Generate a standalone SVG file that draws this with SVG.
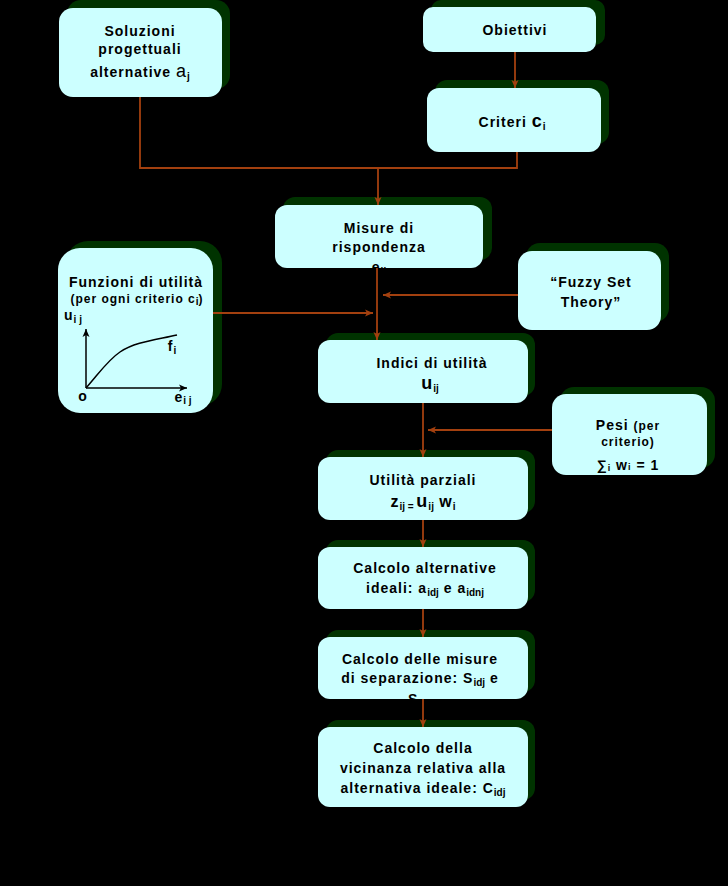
<svg xmlns="http://www.w3.org/2000/svg" width="728" height="886" viewBox="0 0 728 886">
<defs>
<style>
.sh{fill:#003300}
.bx{fill:#ccffff}
text{font-family:"Liberation Sans",Arial,sans-serif;font-weight:bold;font-size:14px;fill:#000;letter-spacing:1px;text-anchor:middle}
.sm{font-size:12px}
.big{font-size:18px}
.sub{font-size:10px;letter-spacing:0}
.con{fill:none;stroke:#a3400f;stroke-width:1.8}
.ax{fill:none;stroke:#000;stroke-width:1.5}
</style>
<marker id="ar" markerUnits="userSpaceOnUse" markerWidth="9" markerHeight="8" refX="8" refY="4" orient="auto">
<path d="M0,0.5 L8,4 L0,7.5 L2,4 z" fill="#a3400f"/>
</marker>
<marker id="ak" markerUnits="userSpaceOnUse" markerWidth="9" markerHeight="8" refX="8" refY="4" orient="auto">
<path d="M0,0.5 L8,4 L0,7.5 L2,4 z" fill="#000"/>
</marker>
</defs>
<rect width="728" height="886" fill="#000"/>

<g id="soluzioni">
<rect class="sh" x="67" y="0" width="163" height="89" rx="14"/>
<rect class="bx" x="59" y="8" width="163" height="89" rx="14"/>
<text x="140" y="36">Soluzioni</text>
<text x="140" y="54">progettuali</text>
<text x="140" y="77">alternative <tspan class="big" font-weight="normal">a</tspan><tspan class="sub" dy="3">j</tspan></text>
</g>

<g id="obiettivi">
<rect class="sh" x="431" y="0" width="174" height="45" rx="10"/>
<rect class="bx" x="423" y="7" width="173" height="45" rx="10"/>
<text x="515" y="35">Obiettivi</text>
</g>

<g id="criteri">
<rect class="sh" x="435" y="80" width="174" height="64" rx="12"/>
<rect class="bx" x="427" y="88" width="174" height="64" rx="12"/>
<text x="512" y="127">Criteri  <tspan class="big">c</tspan><tspan class="sub" dy="3">i</tspan></text>
</g>

<g id="misure">
<rect class="sh" x="283" y="197" width="209" height="63" rx="12"/>
<rect class="bx" x="275" y="205" width="208" height="63" rx="12"/>
<text x="379" y="233">Misure di</text>
<text x="379" y="252">rispondenza</text>
<text x="379" y="272">e<tspan class="sub" dy="3">ij</tspan></text>
</g>

<g id="fuzzy">
<rect class="sh" x="526" y="243" width="143" height="79" rx="14"/>
<rect class="bx" x="518" y="251" width="143" height="79" rx="14"/>
<text x="591" y="287">“Fuzzy Set</text>
<text x="591" y="307">Theory”</text>
</g>

<g id="funzioni">
<rect class="sh" x="66" y="241" width="156" height="165" rx="22"/>
<rect class="bx" x="58" y="248" width="155" height="165" rx="22"/>
<text x="136" y="287">Funzioni di utilità</text>
<text class="sm" x="137" y="303" letter-spacing="0.3">(per ogni criterio c<tspan class="sub" dy="2" font-size="8">i</tspan><tspan dy="-2">)</tspan></text>
<text x="73" y="320" text-anchor="start" letter-spacing="0">u<tspan class="sub" dy="3" font-size="8">i j</tspan></text>
<path class="ax" d="M86,388 V329" marker-end="url(#ak)"/>
<path class="ax" d="M86,388 H187" marker-end="url(#ak)"/>
<path d="M86,388 C100,372 108,360 120,352 C135,342 155,340 177,335" fill="none" stroke="#000" stroke-width="1.5"/>
<text x="172" y="351" text-anchor="start" letter-spacing="0">f<tspan class="sub" dy="3" font-size="8">i</tspan></text>
<text x="83" y="401" text-anchor="middle" letter-spacing="0" font-size="11">o</text>
<text x="183" y="402" text-anchor="start" letter-spacing="0">e<tspan class="sub" dy="2" font-size="8">i j</tspan></text>
</g>

<g id="indici">
<rect class="sh" x="326" y="333" width="209" height="63" rx="12"/>
<rect class="bx" x="318" y="340" width="210" height="63" rx="12"/>
<text x="432" y="368">Indici di utilità</text>
<text x="430" y="389"><tspan class="big">u</tspan><tspan class="sub" dy="3">ij</tspan></text>
</g>

<g id="pesi">
<rect class="sh" x="560" y="387" width="155" height="81" rx="14"/>
<rect class="bx" x="552" y="394" width="155" height="81" rx="14"/>
<text x="628" y="430">Pesi <tspan class="sm">(per</tspan></text>
<text class="sm" x="628" y="446">criterio)</text>
<text x="628" y="470" letter-spacing="0">∑<tspan font-size="9" dy="1">i</tspan><tspan dy="-1"> w</tspan><tspan font-size="9">i</tspan> = 1</text>
</g>

<g id="utilita">
<rect class="sh" x="326" y="450" width="209" height="63" rx="12"/>
<rect class="bx" x="318" y="457" width="210" height="63" rx="12"/>
<text x="423" y="485">Utilità parziali</text>
<text x="423" y="507" letter-spacing="0"><tspan font-size="16">z</tspan><tspan class="sub" dy="3">ij</tspan><tspan class="sub"> = </tspan><tspan class="big" dy="-3">u</tspan><tspan class="sub" dy="3">ij</tspan><tspan font-size="16" dy="-3"> w</tspan><tspan class="sub" dy="3">i</tspan></text>
</g>

<g id="calcolo-alternative">
<rect class="sh" x="326" y="540" width="209" height="62" rx="12"/>
<rect class="bx" x="318" y="547" width="210" height="62" rx="12"/>
<text x="425" y="573">Calcolo alternative</text>
<text x="425" y="593">ideali: a<tspan class="sub" dy="3">idj</tspan><tspan dy="-3"> e a</tspan><tspan class="sub" dy="3">idnj</tspan></text>
</g>

<g id="calcolo-misure">
<rect class="sh" x="326" y="630" width="209" height="62" rx="12"/>
<rect class="bx" x="318" y="637" width="210" height="62" rx="12"/>
<text x="420" y="664">Calcolo delle misure</text>
<text x="420" y="683">di separazione: S<tspan class="sub" dy="3">idj</tspan><tspan dy="-3"> e</tspan></text>
<text x="422" y="704">S<tspan class="sub" dy="3">idnj</tspan></text>
</g>

<g id="calcolo-vicinanza">
<rect class="sh" x="326" y="720" width="209" height="80" rx="12"/>
<rect class="bx" x="318" y="727" width="210" height="80" rx="12"/>
<text x="423" y="753">Calcolo della</text>
<text x="423" y="773">vicinanza relativa alla</text>
<text x="423" y="793">alternativa ideale: C<tspan class="sub" dy="3">idj</tspan></text>
</g>

<g id="connectors">
<path class="con" d="M140,97 V168 H517 V152"/>
<path class="con" d="M378,168 V205" marker-end="url(#ar)"/>
<path class="con" d="M515,52 V88" marker-end="url(#ar)"/>
<path class="con" d="M377,268 V340" marker-end="url(#ar)"/>
<path class="con" d="M518,295 H383" marker-end="url(#ar)"/>
<path class="con" d="M213,313 H373" marker-end="url(#ar)"/>
<path class="con" d="M552,430 H428" marker-end="url(#ar)"/>
<path class="con" d="M423,403 V457" marker-end="url(#ar)"/>
<path class="con" d="M423,520 V547" marker-end="url(#ar)"/>
<path class="con" d="M423,609 V637" marker-end="url(#ar)"/>
<path class="con" d="M423,699 V727" marker-end="url(#ar)"/>
</g>
</svg>
